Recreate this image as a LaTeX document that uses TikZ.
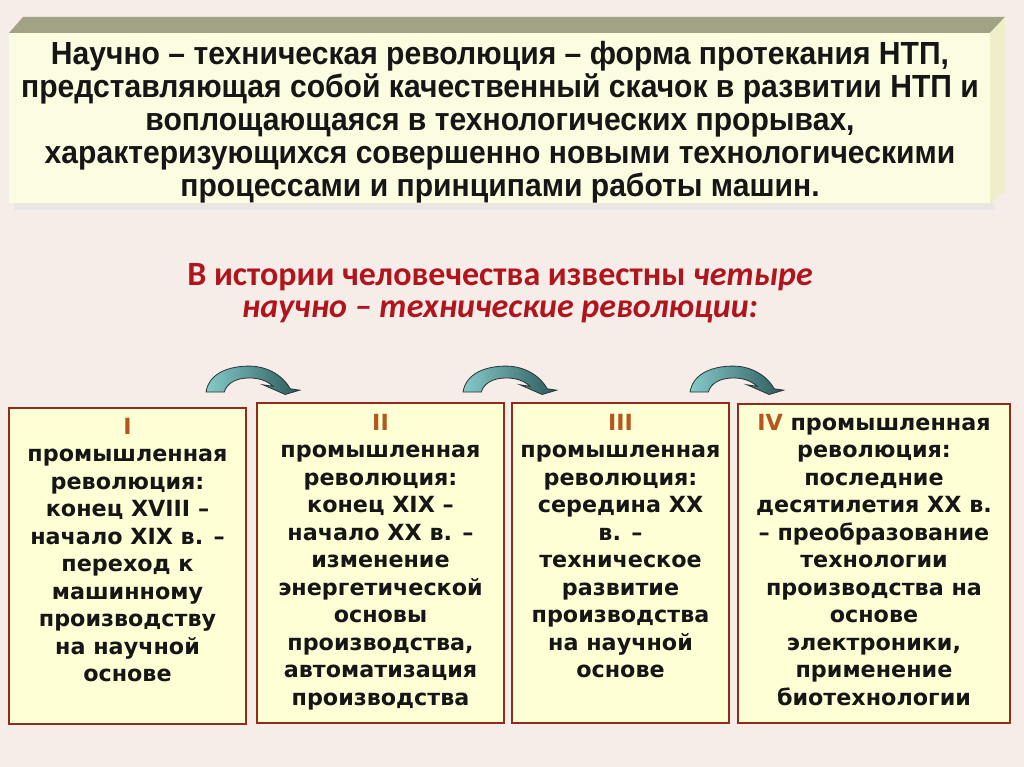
\documentclass[tikz,border=0pt]{standalone}
\usepackage{fontspec}
\newfontfamily\topfont[FakeStretch=0.94]{Liberation Sans}
\newfontfamily\redfont{Carlito}
\newfontfamily\boxfont{DejaVu Sans}
\definecolor{bgc}{HTML}{F6EDE8}
\definecolor{faceC}{HTML}{FCFCE0}
\definecolor{bevelC}{HTML}{A2A284}
\definecolor{sideC}{HTML}{EEEEC8}
\definecolor{boxfill}{HTML}{FFFFD6}
\definecolor{boxline}{HTML}{8E2E1A}
\definecolor{redtxt}{HTML}{B0141C}
\definecolor{numC}{HTML}{B5561C}
\definecolor{tealL}{HTML}{86CACA}
\definecolor{tealD}{HTML}{2C5A5A}
\definecolor{arrowline}{HTML}{2A3434}
\definecolor{txt}{HTML}{161616}
\tikzset{
  revbox/.style={draw=boxline, line width=1.6pt, fill=boxfill},
  boxtext/.style={font=\boxfont\bfseries\fontsize{16.7}{20.6}\selectfont, text=txt, align=center, inner sep=0pt, anchor=north},
  curvarrow/.pic={
    \shadedraw[left color=tealL, right color=tealD, draw=arrowline, line width=0.6pt]
      (0,0) .. controls (3,-18) and (22,-24) .. (40,-24)
      .. controls (58,-24) and (72,-14) .. (78,-3)
      -- (86.7,-1.7) -- (73.3,2.3) -- (52.7,-6.7) -- (62,-5.3)
      .. controls (56,-11) and (48,-13) .. (40,-13)
      .. controls (28,-13) and (19,-8) .. (17,0) -- cycle;
  }
}
\begin{document}
\begin{tikzpicture}[x=0.75pt, y=-0.75pt]
\useasboundingbox (0,0) rectangle (1024,767);
\fill[bgc] (0,0) rectangle (1024,767);
% top 3D box
\fill[black!12, opacity=0.5] (14,203) rectangle (995,210);
\fill[bevelC] (9,33) -- (990,33) -- (1005,17) -- (23,17) -- cycle;
\fill[sideC] (990,33) -- (1005,17) -- (1005,192) -- (990,203) -- cycle;
\fill[faceC] (9,33) rectangle (990,203);
\node[font=\topfont\bfseries\fontsize{24}{24.75}\selectfont, text=txt, align=center, inner sep=0pt, anchor=north] (def) at (500,41)
  {Научно – техническая революция – форма протекания НТП,\\
   представляющая собой качественный скачок в развитии НТП и\\
   воплощающаяся в технологических прорывах,\\
   характеризующихся совершенно новыми технологическими\\
   процессами и принципами работы машин.};
% red heading
\node[font=\redfont\bfseries\fontsize{25.5}{24.5}\selectfont, text=redtxt, align=center, inner sep=0pt, anchor=north] (head) at (500,263)
  {В истории человечества известны \textit{четыре}\\
   \textit{научно – технические революции:}};
% arrows
\pic[scale=1.08] at (206,392) {curvarrow};
\pic[scale=1.08] at (463,392) {curvarrow};
\pic[scale=1.08] at (690,392) {curvarrow};
% boxes
\draw[revbox] (9,408) rectangle (246,724);
\draw[revbox] (257,403) rectangle (504,723);
\draw[revbox] (512,403) rectangle (729,723);
\draw[revbox] (738,404) rectangle (1010,723);
\node[boxtext] (t1) at (127.5,418) {\textcolor{numC}{I}\\промышленная\\революция:\\конец XVIII –\\начало XIX в. –\\переход к\\машинному\\производству\\на научной\\основе};
\node[boxtext] (t2) at (380.5,414) {\textcolor{numC}{II}\\промышленная\\революция:\\конец XIX –\\начало XX в. –\\изменение\\энергетической\\основы\\производства,\\автоматизация\\производства};
\node[boxtext] (t3) at (620.5,414) {\textcolor{numC}{III}\\промышленная\\революция:\\середина XX\\в. –\\техническое\\развитие\\производства\\на научной\\основе};
\node[boxtext] (t4) at (874,414) {\textcolor{numC}{IV} промышленная\\революция:\\последние\\десятилетия XX в.\\– преобразование\\технологии\\производства на\\основе\\электроники,\\применение\\биотехнологии};
\end{tikzpicture}
\end{document}
